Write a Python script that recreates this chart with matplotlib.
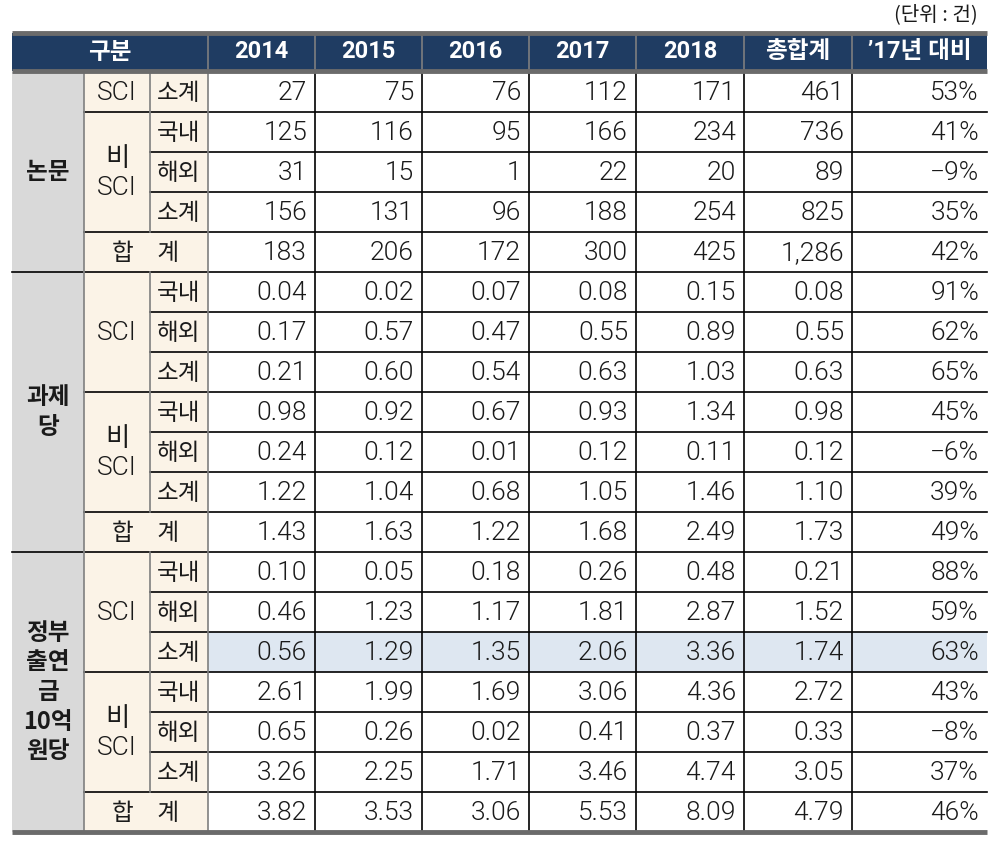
import matplotlib
matplotlib.use("Agg")
import matplotlib.pyplot as plt
from matplotlib.patches import Rectangle

plt.rcParams['font.family'] = ['Noto Sans CJK KR', 'DejaVu Sans']
NUMFONT = ['Roboto', 'Noto Sans CJK KR', 'DejaVu Sans']

# ---------------- data ----------------
columns = ["2014", "2015", "2016", "2017", "2018", "총합계", "’17년 대비"]
unit_label = "(단위 : 건)"
groups = ["논문", "과제\n당", "정부\n출연\n금\n10억\n원당"]

nonmun_sci_sub = ["27", "75", "76", "112", "171", "461", "53%"]
nonmun_bi_dom = ["125", "116", "95", "166", "234", "736", "41%"]
nonmun_bi_ovs = ["31", "15", "1", "22", "20", "89", "−9%"]
nonmun_bi_sub = ["156", "131", "96", "188", "254", "825", "35%"]
nonmun_total = ["183", "206", "172", "300", "425", "1,286", "42%"]

gwaje_sci_dom = ["0.04", "0.02", "0.07", "0.08", "0.15", "0.08", "91%"]
gwaje_sci_ovs = ["0.17", "0.57", "0.47", "0.55", "0.89", "0.55", "62%"]
gwaje_sci_sub = ["0.21", "0.60", "0.54", "0.63", "1.03", "0.63", "65%"]
gwaje_bi_dom = ["0.98", "0.92", "0.67", "0.93", "1.34", "0.98", "45%"]
gwaje_bi_ovs = ["0.24", "0.12", "0.01", "0.12", "0.11", "0.12", "−6%"]
gwaje_bi_sub = ["1.22", "1.04", "0.68", "1.05", "1.46", "1.10", "39%"]
gwaje_total = ["1.43", "1.63", "1.22", "1.68", "2.49", "1.73", "49%"]

gov_sci_dom = ["0.10", "0.05", "0.18", "0.26", "0.48", "0.21", "88%"]
gov_sci_ovs = ["0.46", "1.23", "1.17", "1.81", "2.87", "1.52", "59%"]
gov_sci_sub = ["0.56", "1.29", "1.35", "2.06", "3.36", "1.74", "63%"]
gov_bi_dom = ["2.61", "1.99", "1.69", "3.06", "4.36", "2.72", "43%"]
gov_bi_ovs = ["0.65", "0.26", "0.02", "0.41", "0.37", "0.33", "−8%"]
gov_bi_sub = ["3.26", "2.25", "1.71", "3.46", "4.74", "3.05", "37%"]
gov_total = ["3.82", "3.53", "3.06", "5.53", "8.09", "4.79", "46%"]

# row structure: (group index, level-2 label, level-3 label, values)
rows = [
    (0, "SCI", "소계", nonmun_sci_sub),
    (0, "비\nSCI", "국내", nonmun_bi_dom),
    (0, "비\nSCI", "해외", nonmun_bi_ovs),
    (0, "비\nSCI", "소계", nonmun_bi_sub),
    (0, "합계", None, nonmun_total),
    (1, "SCI", "국내", gwaje_sci_dom),
    (1, "SCI", "해외", gwaje_sci_ovs),
    (1, "SCI", "소계", gwaje_sci_sub),
    (1, "비\nSCI", "국내", gwaje_bi_dom),
    (1, "비\nSCI", "해외", gwaje_bi_ovs),
    (1, "비\nSCI", "소계", gwaje_bi_sub),
    (1, "합계", None, gwaje_total),
    (2, "SCI", "국내", gov_sci_dom),
    (2, "SCI", "해외", gov_sci_ovs),
    (2, "SCI", "소계", gov_sci_sub),
    (2, "비\nSCI", "국내", gov_bi_dom),
    (2, "비\nSCI", "해외", gov_bi_ovs),
    (2, "비\nSCI", "소계", gov_bi_sub),
    (2, "합계", None, gov_total),
]
highlight_row = 14

# ---------------- layout / style ----------------
NAVY = "#1F3C62"
GREY_COL = "#D9D9D9"
BEIGE = "#FBF3E7"
HILITE = "#DEE7F1"
THICK = "#6B6B6B"
LGREY = "#7F7F7F"
TXT = "#1a1a1a"
LIGHT = 300

x_edges = [12, 84, 150, 208, 315, 422, 529, 636, 744, 852, 987]
y_head_top, y_head_bot = 33, 71
row_h = 40.0
y0 = 72

fig = plt.figure(figsize=(9.9, 8.42), dpi=100)
ax = fig.add_axes([0, 0, 1, 1])
ax.set_xlim(0, 990)
ax.set_ylim(842, 0)
ax.axis('off')

nrows = len(rows)
y_end = y0 + nrows * row_h
xl, xr = x_edges[0], x_edges[-1]

# header background
ax.add_patch(Rectangle((xl, y_head_top), xr - xl, y_head_bot - y_head_top, color=NAVY, lw=0))
# grey group column
ax.add_patch(Rectangle((x_edges[0], y0), x_edges[1] - x_edges[0], y_end - y0, color=GREY_COL, lw=0))
# beige label columns
ax.add_patch(Rectangle((x_edges[1], y0), x_edges[3] - x_edges[1], y_end - y0, color=BEIGE, lw=0))
# highlight row
ax.add_patch(Rectangle((x_edges[3], y0 + highlight_row * row_h), xr - x_edges[3], row_h, color=HILITE, lw=0))

# header text
ax.text((x_edges[0] + x_edges[3]) / 2, (y_head_top + y_head_bot) / 2, "구분", color="white",
        fontsize=17, fontweight='bold', ha='center', va='center')
for j, c in enumerate(columns):
    xc = (x_edges[3 + j] + x_edges[4 + j]) / 2
    ax.text(xc, (y_head_top + y_head_bot) / 2, c, color="white", fontsize=17,
            fontweight='bold', ha='center', va='center', family=NUMFONT)
# header separators
for x in x_edges[3:-1]:
    ax.plot([x, x], [y_head_top, y_head_bot], color=LGREY, lw=1.2)

ax.text(978, 15, unit_label, fontsize=14.5, ha='right', va='center', color=TXT)

# data cells
for i, (g, l2, l3, vals) in enumerate(rows):
    yc = y0 + (i + 0.5) * row_h
    for j, v in enumerate(vals):
        ax.text(x_edges[4 + j] - 8, yc + 1.5, v, fontsize=19, fontweight=LIGHT, family=NUMFONT,
                ha='right', va='center', color=TXT)
    if l3 is None:
        ax.text(146, yc + 1, "합　계", fontsize=17, ha='center', va='center', color=TXT)
    else:
        ax.text((x_edges[2] + x_edges[3]) / 2, yc + 1, l3, fontsize=17,
                ha='center', va='center', color=TXT)

# merged level-2 labels and groups
def spans(key_fn):
    out = []
    start = 0
    for i in range(1, nrows + 1):
        if i == nrows or key_fn(i) != key_fn(start):
            out.append((start, i))
            start = i
    return out

for s, e in spans(lambda i: (rows[i][0], rows[i][1])):
    g, l2 = rows[s][0], rows[s][1]
    if l2 == "합계":
        continue
    yc = y0 + (s + e) / 2 * row_h
    ax.text((x_edges[1] + x_edges[2]) / 2, yc + 1.5, l2, fontsize=19, fontweight=LIGHT,
            family=NUMFONT, ha='center', va='center', color=TXT, linespacing=1.3)

for s, e in spans(lambda i: rows[i][0]):
    g = rows[s][0]
    yc = y0 + (s + e) / 2 * row_h
    ax.text((x_edges[0] + x_edges[1]) / 2, yc, groups[g], fontsize=17, fontweight='bold',
            ha='center', va='center', color=TXT, linespacing=1.3)

# horizontal grid lines
for i in range(1, nrows):
    y = y0 + i * row_h
    g_prev, g_cur = rows[i - 1][0], rows[i][0]
    if g_prev != g_cur:
        ax.plot([xl, xr], [y, y], color="black", lw=1.2)
    elif rows[i - 1][1] != rows[i][1]:
        ax.plot([x_edges[1], xr], [y, y], color="black", lw=1.2)
    else:
        ax.plot([x_edges[2], xr], [y, y], color="black", lw=1.2)

# vertical lines in label area
for s, e in spans(lambda i: (rows[i][0], rows[i][1])):
    ya, yb = y0 + s * row_h, y0 + e * row_h
    ax.plot([x_edges[1], x_edges[1]], [ya, yb], color=LGREY, lw=1.2)
    if rows[s][1] != "합계":
        ax.plot([x_edges[2], x_edges[2]], [ya, yb], color=LGREY, lw=1.2)
ax.plot([x_edges[3], x_edges[3]], [y0, y_end], color=LGREY, lw=1.2)
# vertical lines in data area
for x in x_edges[4:-1]:
    ax.plot([x, x], [y0, y_end], color="black", lw=1.2)

# thick borders
ax.plot([xl, xr], [y_head_top, y_head_top], color=THICK, lw=3.5, solid_capstyle='butt')
ax.plot([xl, xr], [y_head_bot, y_head_bot], color=THICK, lw=3.5, solid_capstyle='butt')
ax.plot([xl, xr], [y_end, y_end], color=THICK, lw=3.5, solid_capstyle='butt')

fig.savefig("out.png", dpi=100)
